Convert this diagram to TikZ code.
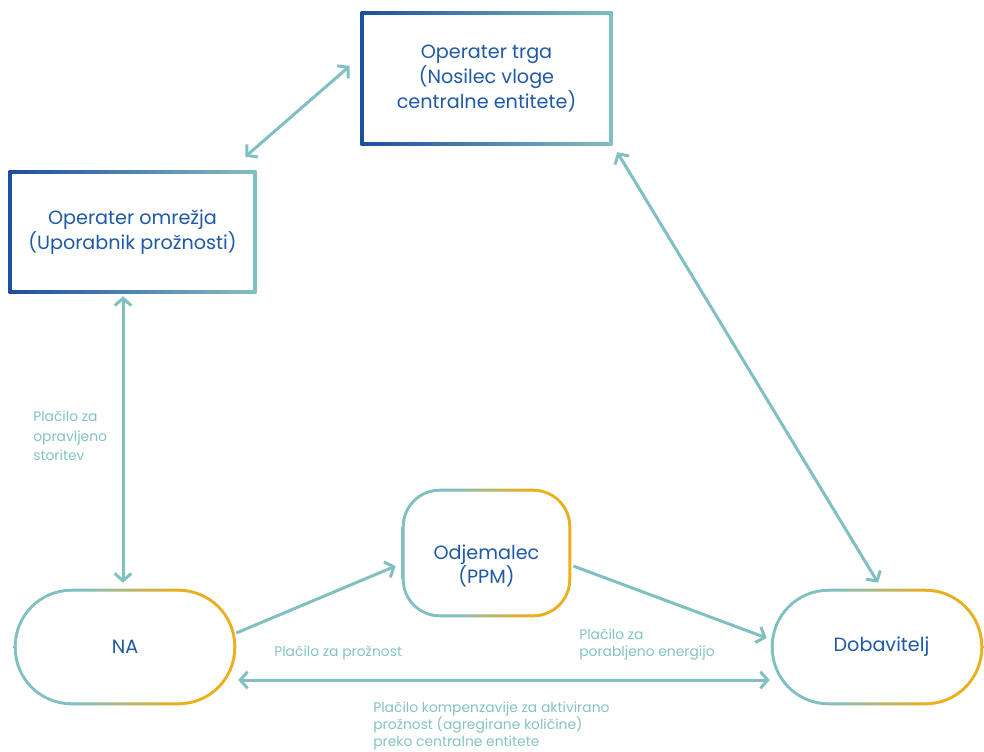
\documentclass[tikz,border=0pt]{standalone}
\usepackage{fontspec}
\setmainfont{Poppins}
\usetikzlibrary{arrows.meta,backgrounds}

\definecolor{navy}{HTML}{1B4F9C}
\definecolor{tealc}{HTML}{80BFC2}
\definecolor{goldc}{HTML}{EBAE1C}
\definecolor{txtblue}{HTML}{1F5AA6}
\definecolor{lblc}{HTML}{84C2C4}

% frame gradients: navy -> teal for the operators, teal -> gold for the parties
\pgfdeclarehorizontalshading{boxedge}{100bp}{color(0bp)=(navy); color(25bp)=(navy); color(75bp)=(tealc); color(100bp)=(tealc)}
\pgfdeclarehorizontalshading{pilledge}{100bp}{color(0bp)=(tealc); color(40bp)=(tealc); color(62bp)=(goldc); color(100bp)=(goldc)}

\tikzset{
  party/.style={font=\fontsize{14.4}{18.4}\selectfont, text=txtblue, align=center, inner sep=0pt},
  flowlabel/.style={font=\fontsize{10.4}{12.75}\selectfont, text=lblc, align=left, inner sep=0pt},
  link/.style={draw=tealc, line width=2.25pt},
  >={Straight Barb[length=5.5pt,width=12.5pt]}
}

\begin{document}
\begin{tikzpicture}[x=0.75pt,y=-0.75pt]
\useasboundingbox (0,0) rectangle (984,751);

% parties (text and anchors)
\node[party, minimum width=188.25pt, minimum height=99.75pt] (trga) at (486.5,78.5) {Operater trga\\(Nosilec vloge\\centralne entitete)};
\node[party, minimum width=185.25pt, minimum height=91.5pt] (omr) at (132.5,232) {Operater omrežja\\(Uporabnik prožnosti)};
\node[party, minimum width=126.75pt, minimum height=96pt] (odj) at (486.5,553) {};
\node[party] (odjtxt) at (486.5,566) {Odjemalec\\(PPM)};
\node[party, minimum width=166.5pt, minimum height=87pt] (na) at (125,647) {NA};
\node[party, minimum width=159pt, minimum height=87pt] (dob) at (877,647) {};
\node[party] (dobtxt) at (881.5,647) {Dobavitelj};

% gradient frames
\begin{scope}[on background layer]
  \shade[shading=boxedge] (trga.north west) rectangle (trga.south east);
  \fill[white] ([shift={(3.5,3.5)}]trga.north west) rectangle ([shift={(-3.5,-3.5)}]trga.south east);
  \shade[shading=boxedge] (omr.north west) rectangle (omr.south east);
  \fill[white] ([shift={(3.5,3.5)}]omr.north west) rectangle ([shift={(-3.5,-3.5)}]omr.south east);
  \shade[shading=pilledge, rounded corners=28.5pt] (odj.north west) rectangle (odj.south east);
  \fill[white, rounded corners=26.25pt] ([shift={(3,3)}]odj.north west) rectangle ([shift={(-3,-3)}]odj.south east);
  \shade[shading=pilledge, rounded corners=43.4pt] (na.north west) rectangle (na.south east);
  \fill[white, rounded corners=41.15pt] ([shift={(3,3)}]na.north west) rectangle ([shift={(-3,-3)}]na.south east);
  \shade[shading=pilledge, rounded corners=43.4pt] (dob.north west) rectangle (dob.south east);
  \fill[white, rounded corners=41.15pt] ([shift={(3,3)}]dob.north west) rectangle ([shift={(-3,-3)}]dob.south east);
\end{scope}

% connectors
\draw[link, <->] ([shift={(-11,-14)}]omr.north east) -- ([shift={(-11,-12.5)}]trga.west);
\draw[link, <->] ([shift={(5,7)}]trga.south east) -- ([shift={(1,-6)}]dob.north);
\draw[link, <->] ([shift={(-9.5,3)}]omr.south) -- ([shift={(-2,-6)}]na.north);
\draw[link, ->] ([shift={(0,-14)}]na.east) -- ([shift={(-6,13)}]odj.west);
\draw[link, ->] ([shift={(2,13)}]odj.east) -- ([shift={(-4,-9)}]dob.west);
\draw[link, <->] ([shift={(2,33)}]na.east) -- ([shift={(-1,33)}]dob.west);

% payment labels
\node[flowlabel, anchor=north west, font=\fontsize{10.4}{14.6}\selectfont] (l1) at (33,411) {Plačilo za\\opravljeno\\storitev};
\node[flowlabel, anchor=north west] (l2) at (274,646) {Plačilo za prožnost};
\node[flowlabel, anchor=north west] (l3) at (579,629) {Plačilo za\\porabljeno energijo};
\node[flowlabel, anchor=north west] (l4) at (373,702) {Plačilo kompenzavije za aktivirano\\prožnost (agregirane količine)\\preko centralne entitete};
\end{tikzpicture}
\end{document}
